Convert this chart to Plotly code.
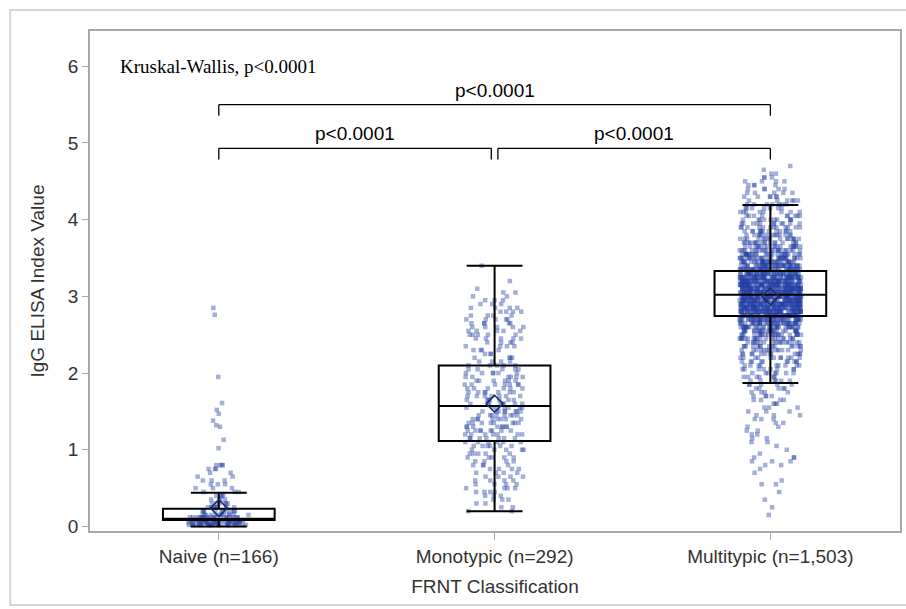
import plotly.graph_objects as go

categories = ["Naive (n=166)", "Monotypic (n=292)", "Multitypic (n=1,503)"]

# Box statistics
q1 = [0.085, 1.115, 2.745]
median = [0.10, 1.57, 3.02]
q3 = [0.23, 2.10, 3.33]
lower_whisker = [0.0, 0.20, 1.87]
upper_whisker = [0.44, 3.40, 4.19]
means = [0.24, 1.60, 3.00]

# Individual values (level -> number of points at that level)
naive_levels = [0.02, 0.05, 0.08, 0.12, 0.15, 0.20, 0.25, 0.30, 0.35, 0.40,
                0.45, 0.50, 0.55, 0.60, 0.65, 0.70, 0.75, 0.80,
                1.02, 1.13, 1.30, 1.32, 1.38, 1.47, 1.52, 1.61, 1.95, 2.76, 2.85]
naive_counts = [25, 25, 22, 16, 12, 10, 8, 6, 4, 4,
                3, 3, 3, 3, 2, 2, 3, 4,
                1, 1, 1, 1, 1, 1, 1, 1, 1, 1, 1]

mono_levels = [0.20, 0.25, 0.30, 0.35, 0.40, 0.45, 0.50, 0.55, 0.60, 0.65,
               0.70, 0.75, 0.80, 0.85, 0.90, 0.95, 1.00, 1.05, 1.10, 1.15,
               1.20, 1.25, 1.30, 1.35, 1.40, 1.45, 1.50, 1.55, 1.60, 1.65,
               1.70, 1.75, 1.80, 1.85, 1.90, 1.95, 2.00, 2.05, 2.10, 2.15,
               2.20, 2.25, 2.30, 2.35, 2.40, 2.45, 2.50, 2.55, 2.60, 2.65,
               2.70, 2.75, 2.80, 2.85, 2.90, 2.95, 3.00, 3.05, 3.10, 3.20, 3.40]
mono_counts = [2, 2, 2, 3, 3, 4, 4, 4, 4, 4,
               4, 4, 4, 4, 5, 5, 5, 6, 6, 7,
               7, 8, 8, 8, 8, 8, 8, 7, 8, 7,
               7, 7, 6, 7, 6, 6, 6, 5, 5, 4,
               4, 3, 4, 4, 4, 5, 5, 5, 5, 5,
               5, 4, 4, 4, 3, 3, 2, 2, 1, 1, 1]

multi_levels = [0.15, 0.25, 0.35, 0.45, 0.55, 0.60, 0.70, 0.75, 0.80, 0.85,
                0.90, 0.95, 1.00, 1.05, 1.10, 1.15, 1.20, 1.25, 1.30, 1.35,
                1.40, 1.45, 1.50, 1.55, 1.60, 1.65, 1.70, 1.75, 1.80, 1.85,
                1.90, 1.95, 2.00, 2.05, 2.10, 2.15, 2.20, 2.25, 2.30, 2.35,
                2.40, 2.45, 2.50, 2.55, 2.60, 2.65, 2.70,
                2.75, 2.80, 2.85, 2.90, 2.95, 3.00, 3.05, 3.10, 3.15, 3.20,
                3.25, 3.30,
                3.35, 3.40, 3.45, 3.50, 3.55, 3.60, 3.65, 3.70, 3.75, 3.80,
                3.85, 3.90, 3.95, 4.00, 4.05, 4.10, 4.15, 4.20, 4.25, 4.30,
                4.35, 4.40, 4.45, 4.50, 4.55, 4.60, 4.65, 4.70]
multi_counts = [1, 1, 1, 1, 2, 1, 1, 1, 2, 3,
                3, 1, 1, 1, 2, 2, 2, 2, 2, 2,
                3, 3, 3, 3, 3, 4, 4, 4, 5, 5,
                6, 6, 7, 8, 9, 10, 11, 12, 13, 15,
                17, 20, 23, 27, 32, 38, 45,
                58, 62, 66, 67, 70, 70, 70, 67, 66, 60,
                55, 47,
                45, 40, 35, 30, 26, 22, 19, 17, 15, 14,
                13, 12, 11, 10, 9, 8, 7, 7, 6, 6,
                5, 5, 4, 4, 3, 2, 1, 1]

# Significance brackets: (left category index, right category index), height, label
bracket_pairs = [(0, 2), (0, 1), (1, 2)]
bracket_heights = [5.50, 4.93, 4.93]
bracket_labels = ["p<0.0001", "p<0.0001", "p<0.0001"]
overall_test = "Kruskal-Wallis, p<0.0001"

y_ticks = [0, 1, 2, 3, 4, 5, 6]

TEXT = "#333333"
SANS = "Liberation Sans, Arial, sans-serif"
SERIF = "Liberation Serif, Times New Roman, serif"
FS = 19
SPARSE_MAX = 3   # levels with few points are jittered in their own trace

dense_x, dense_y, sparse_x, sparse_y = [], [], [], []
for cat, levels, counts in zip(categories,
                               [naive_levels, mono_levels, multi_levels],
                               [naive_counts, mono_counts, multi_counts]):
    for lv, c in zip(levels, counts):
        if c > SPARSE_MAX:
            dense_x += [cat] * c
            dense_y += [lv] * c
        else:
            sparse_x += [cat] * c
            sparse_y += [lv] * c

fig = go.Figure()

point_marker = dict(symbol="square", size=4.5, color="rgba(35,65,165,0.42)",
                    line=dict(width=0))
for px, py in [(dense_x, dense_y), (sparse_x, sparse_y)]:
    fig.add_trace(go.Box(
        x=px, y=py, boxpoints="all", jitter=0.55, pointpos=0, width=0.405,
        line=dict(color="rgba(0,0,0,0)", width=0), fillcolor="rgba(0,0,0,0)",
        marker=point_marker, hoverinfo="skip", showlegend=False))

# boxes from statistics
fig.add_trace(go.Box(
    x=categories, q1=q1, median=median, q3=q3,
    lowerfence=lower_whisker, upperfence=upper_whisker,
    orientation="v", boxpoints=False, width=0.405, whiskerwidth=0.5,
    line=dict(color="black", width=2), fillcolor="rgba(0,0,0,0)",
    showlegend=False))

# means
fig.add_trace(go.Scatter(
    x=categories, y=means, mode="markers",
    marker=dict(symbol="diamond-open", size=13, color="rgb(30,45,110)",
                line=dict(width=1.6, color="rgb(30,45,110)")),
    showlegend=False))

shapes = []
annotations = []
drop = 0.145
gap = 0.012
for (a, b), h, lab in zip(bracket_pairs, bracket_heights, bracket_labels):
    x0 = a + (gap if (b - a) == 1 and a > 0 else 0.0)
    x1 = b - (gap if (b - a) == 1 and b < 2 else 0.0)
    line = dict(color="black", width=1.3)
    shapes.append(dict(type="line", xref="x", yref="y", x0=x0, x1=x1, y0=h, y1=h, line=line))
    shapes.append(dict(type="line", xref="x", yref="y", x0=x0, x1=x0, y0=h - drop, y1=h, line=line))
    shapes.append(dict(type="line", xref="x", yref="y", x0=x1, x1=x1, y0=h - drop, y1=h, line=line))
    annotations.append(dict(x=(x0 + x1) / 2, y=h, xref="x", yref="y", text=lab,
                            showarrow=False, yanchor="bottom", yshift=2,
                            font=dict(family=SANS, size=FS, color="black")))

annotations.append(dict(x=0.0345, y=6.0, xref="paper", yref="y", text=overall_test,
                        showarrow=False, xanchor="left", yanchor="middle",
                        font=dict(family=SERIF, size=FS, color="black")))

# outer graph border (its right edge lies beyond the picture)
shapes.append(dict(type="rect", xref="paper", yref="paper",
                   x0=-0.0985, x1=1.03, y0=-0.148, y1=1.042,
                   line=dict(color="#d4d4d4", width=2), layer="below"))

fig.update_layout(
    width=906, height=609,
    margin=dict(l=90, r=4, t=31, b=78),
    paper_bgcolor="white", plot_bgcolor="white",
    boxmode="overlay",
    shapes=shapes, annotations=annotations,
    font=dict(family=SANS, size=FS, color=TEXT),
    xaxis=dict(
        type="category", categoryorder="array", categoryarray=categories,
        range=[-0.467, 2.47], showgrid=False, zeroline=False,
        showline=True, mirror=True, linecolor="#a8a8a8", linewidth=1.5,
        ticks="outside", ticklen=7, tickcolor="#a8a8a8", tickwidth=1,
        tickfont=dict(family=SANS, size=FS, color=TEXT),
        title=dict(text="FRNT Classification", standoff=14,
                   font=dict(family=SANS, size=FS, color=TEXT)),
    ),
    yaxis=dict(
        range=[-0.059, 6.46], tickvals=y_ticks, showgrid=False, zeroline=False,
        showline=True, mirror=True, linecolor="#a8a8a8", linewidth=1.5,
        ticks="outside", ticklen=6, tickcolor="#a8a8a8", tickwidth=1,
        tickfont=dict(family=SANS, size=FS, color=TEXT),
        title=dict(text="IgG ELISA Index Value", standoff=18,
                   font=dict(family=SANS, size=FS, color=TEXT)),
    ),
)

fig.write_html("out.html", config={"displayModeBar": False},
               post_script="document.body.style.margin='0';")
